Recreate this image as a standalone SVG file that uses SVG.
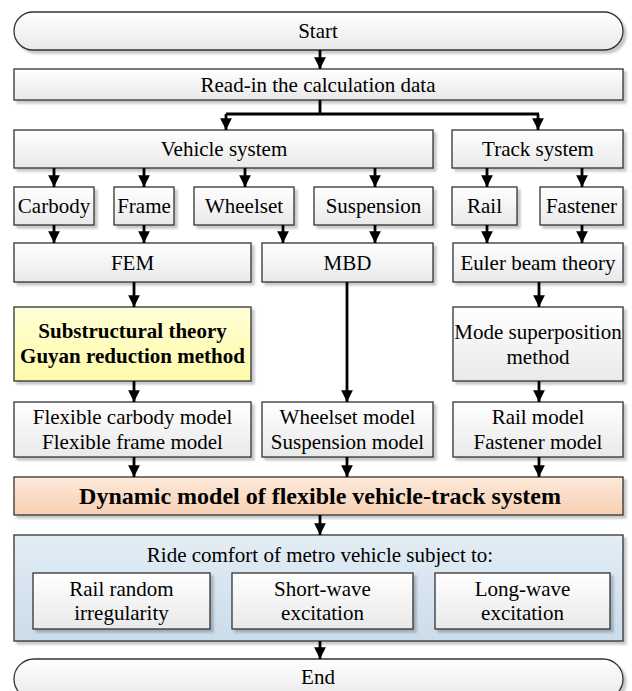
<svg xmlns="http://www.w3.org/2000/svg" width="632" height="691" viewBox="0 0 632 691" font-family="Liberation Serif, DejaVu Serif, serif">
<defs>
<linearGradient id="gw" x1="0" y1="0" x2="0" y2="1"><stop offset="0" stop-color="#ffffff"/><stop offset="1" stop-color="#e9e9e9"/></linearGradient>
<linearGradient id="gy" x1="0" y1="0" x2="0" y2="1"><stop offset="0" stop-color="#ffffd6"/><stop offset="1" stop-color="#fffaa8"/></linearGradient>
<linearGradient id="gp" x1="0" y1="0" x2="0" y2="1"><stop offset="0" stop-color="#fdeadb"/><stop offset="1" stop-color="#f6cfb2"/></linearGradient>
<linearGradient id="gb" x1="0" y1="0" x2="0" y2="1"><stop offset="0" stop-color="#e3edf5"/><stop offset="1" stop-color="#cbdcea"/></linearGradient>
<filter id="sh" x="-5%" y="-20%" width="115%" height="150%"><feDropShadow dx="3" dy="3" stdDeviation="1.2" flood-color="#000" flood-opacity="0.22"/></filter>
<marker id="ah" viewBox="0 0 10 10" refX="10" refY="5" markerWidth="4.2" markerHeight="4.2" orient="auto" markerUnits="strokeWidth"><path d="M0,0 L10,5 L0,10 z" fill="#000"/></marker>
</defs>
<style>
.b{fill:url(#gw);stroke:#333;stroke-width:1.3;filter:url(#sh)}
.y{fill:url(#gy);stroke:#333;stroke-width:1.3;filter:url(#sh)}
.p{fill:url(#gp);stroke:#333;stroke-width:1.3;filter:url(#sh)}
.bl{fill:url(#gb);stroke:#333;stroke-width:1.3;filter:url(#sh)}
text{font-size:21px;fill:#000;text-anchor:middle;dominant-baseline:central}
.bd{font-weight:bold}
.c line,.c path{stroke:#000;stroke-width:2.8;fill:none}
.a{marker-end:url(#ah)}
</style>
<g id="start"><rect class="b" x="14" y="12" width="609" height="38" rx="19"/><text x="318" y="31">Start</text></g>
<g id="readin"><rect class="b" x="14" y="69" width="609" height="31"/><text x="318" y="84.5">Read-in the calculation data</text></g>
<g id="vehicle"><rect class="b" x="14" y="130" width="419" height="38"/><text x="224" y="149">Vehicle system</text></g>
<g id="track"><rect class="b" x="452" y="130" width="171" height="38"/><text x="538" y="149">Track system</text></g>
<g id="carbody"><rect class="b" x="14" y="187" width="80" height="38"/><text x="54" y="206">Carbody</text></g>
<g id="frame"><rect class="b" x="114" y="187" width="60" height="38"/><text x="144" y="206">Frame</text></g>
<g id="wheelset"><rect class="b" x="194" y="187" width="100" height="38"/><text x="244" y="206">Wheelset</text></g>
<g id="suspension"><rect class="b" x="314" y="187" width="119" height="38"/><text x="373.5" y="206">Suspension</text></g>
<g id="rail"><rect class="b" x="452" y="187" width="65" height="38"/><text x="484.5" y="206">Rail</text></g>
<g id="fastener"><rect class="b" x="540" y="187" width="83" height="38"/><text x="581.5" y="206">Fastener</text></g>
<g id="fem"><rect class="b" x="14" y="243" width="237" height="39"/><text x="132.5" y="263">FEM</text></g>
<g id="mbd"><rect class="b" x="262" y="243" width="171" height="39"/><text x="347.5" y="263">MBD</text></g>
<g id="euler"><rect class="b" x="453" y="243" width="170" height="39"/><text x="538" y="263">Euler beam theory</text></g>
<g id="substructural"><rect class="y" x="14" y="307" width="237" height="74"/><text class="bd" x="132.5" y="331">Substructural theory</text><text class="bd" x="132.5" y="356">Guyan reduction method</text></g>
<g id="modesup"><rect class="b" x="453" y="307" width="170" height="74"/><text x="538" y="332">Mode superposition</text><text x="538" y="357">method</text></g>
<g id="flexible"><rect class="b" x="14" y="402" width="237" height="55"/><text x="132.5" y="417">Flexible carbody model</text><text x="132.5" y="442">Flexible frame model</text></g>
<g id="wheelsetmodel"><rect class="b" x="262" y="402" width="171" height="55"/><text x="347.5" y="417">Wheelset model</text><text x="347.5" y="442">Suspension model</text></g>
<g id="railmodel"><rect class="b" x="453" y="402" width="170" height="55"/><text x="538" y="417">Rail model</text><text x="538" y="442">Fastener model</text></g>
<g id="dynamic"><rect class="p" x="14" y="477" width="609" height="38"/><text class="bd" x="320" y="496" style="font-size:24px">Dynamic model of flexible vehicle-track system</text></g>
<g id="ride"><rect class="bl" x="14" y="535" width="609" height="106"/><text x="320" y="555">Ride comfort of metro vehicle subject to:</text>
<g id="railrandom"><rect class="b" x="33" y="573" width="177" height="56"/><text x="121.5" y="589">Rail random</text><text x="121.5" y="613">irregularity</text></g>
<g id="shortwave"><rect class="b" x="232" y="573" width="181" height="56"/><text x="322.5" y="589">Short-wave</text><text x="322.5" y="613">excitation</text></g>
<g id="longwave"><rect class="b" x="435" y="573" width="175" height="56"/><text x="522.5" y="589">Long-wave</text><text x="522.5" y="613">excitation</text></g>
</g>
<g id="end"><rect class="b" x="14" y="659" width="609" height="40" rx="20"/><text x="318" y="677">End</text></g>
<g id="connectors" class="c">
<line class="a" x1="320" y1="50" x2="320" y2="69"/>
<path d="M320,100 V114 M226,114 H539"/>
<line class="a" x1="226" y1="114" x2="226" y2="130"/>
<line class="a" x1="538" y1="114" x2="538" y2="130"/>
<line class="a" x1="54" y1="168" x2="54" y2="187"/>
<line class="a" x1="144" y1="168" x2="144" y2="187"/>
<line class="a" x1="245" y1="168" x2="245" y2="187"/>
<line class="a" x1="375" y1="168" x2="375" y2="187"/>
<line class="a" x1="487" y1="168" x2="487" y2="187"/>
<line class="a" x1="582" y1="168" x2="582" y2="187"/>
<line class="a" x1="54" y1="225" x2="54" y2="243"/>
<line class="a" x1="144" y1="225" x2="144" y2="243"/>
<line class="a" x1="283" y1="225" x2="283" y2="243"/>
<line class="a" x1="375" y1="225" x2="375" y2="243"/>
<line class="a" x1="487" y1="225" x2="487" y2="243"/>
<line class="a" x1="582" y1="225" x2="582" y2="243"/>
<line class="a" x1="134" y1="282" x2="134" y2="307"/>
<line class="a" x1="347" y1="282" x2="347" y2="402"/>
<line class="a" x1="539" y1="282" x2="539" y2="307"/>
<line class="a" x1="134" y1="381" x2="134" y2="402"/>
<line class="a" x1="539" y1="381" x2="539" y2="402"/>
<line class="a" x1="134" y1="457" x2="134" y2="477"/>
<line class="a" x1="347" y1="457" x2="347" y2="477"/>
<line class="a" x1="539" y1="457" x2="539" y2="477"/>
<line class="a" x1="320" y1="515" x2="320" y2="535"/>
<line class="a" x1="320" y1="641" x2="320" y2="659"/>
</g>
</svg>
